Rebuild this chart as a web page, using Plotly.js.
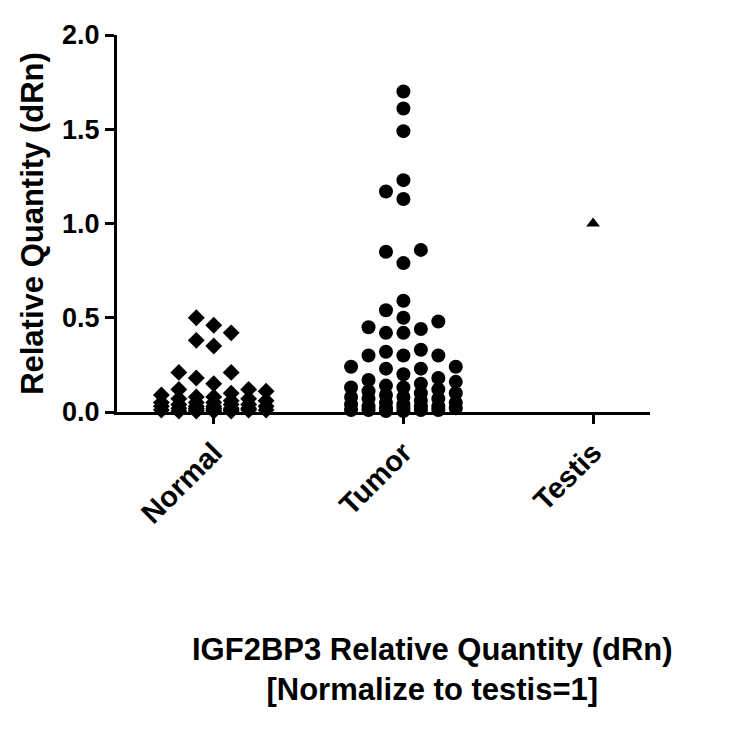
<!DOCTYPE html>
<html>
<head>
<meta charset="utf-8">
<script src="https://cdn.plot.ly/plotly-3.0.1.min.js"></script>
<style>html,body{margin:0;padding:0;background:#fff;}</style>
</head>
<body>
<div id="chart" style="width:731px;height:731px;"></div>
<script>
// ---- data ----
const categories = ["Normal", "Tumor", "Testis"];

const normalValues = [
  0.50, 0.46, 0.42, 0.38, 0.35, 0.21, 0.21, 0.18, 0.15,
  0.12, 0.12, 0.11, 0.10, 0.09, 0.08, 0.08, 0.07, 0.07, 0.06, 0.06,
  0.05, 0.05, 0.05, 0.04, 0.04, 0.04, 0.03, 0.03, 0.03, 0.03,
  0.02, 0.02, 0.02, 0.02, 0.02, 0.01, 0.01, 0.01, 0.01, 0.01, 0.01,
  0.005, 0.005, 0.005, 0.005
];

const tumorValues = [
  1.70, 1.61, 1.49, 1.23, 1.17, 1.13, 0.86, 0.85, 0.79,
  0.59, 0.54, 0.50, 0.48, 0.45, 0.44, 0.42, 0.42,
  0.33, 0.32, 0.30, 0.30, 0.30, 0.24, 0.24, 0.23, 0.23, 0.20,
  0.18, 0.17, 0.16, 0.15, 0.14, 0.13, 0.13, 0.12, 0.11, 0.10, 0.10,
  0.09, 0.08, 0.08, 0.07, 0.07, 0.06, 0.05, 0.05, 0.04, 0.04,
  0.03, 0.03, 0.03, 0.02, 0.02, 0.02, 0.01, 0.01, 0.01, 0.01, 0.005, 0.005
];

const testisValues = [1.0];

const yTickValues = [0, 0.5, 1.0, 1.5, 2.0];

const titleLines = ["IGF2BP3 Relative Quantity (dRn)", "[Normalize to testis=1]"];
const yTitle = "Relative Quantity (dRn)";

// ---- layout of the scatter-dot columns (Prism-like swarm) ----
const plotHeightPx = 377;
const yRange = [0, 2];
const pxPerY = plotHeightPx / (yRange[1] - yRange[0]);
const colStep = 0.092;
const slotOrder = [0, -1, 1, -2, 2, -3, 3];

function swarm(vals, catIndex, thrPx) {
  const sorted = vals.slice().sort((a, b) => a - b);
  const cols = {};
  slotOrder.forEach(o => cols[o] = []);
  const xs = [], ys = [];
  sorted.forEach(v => {
    let chosen = null, bestGap = -1, bestSlot = 0;
    for (const o of slotOrder) {
      let gap = Infinity;
      cols[o].forEach(u => { gap = Math.min(gap, Math.abs(v - u) * pxPerY); });
      if (gap >= thrPx) { chosen = o; break; }
      if (gap > bestGap + 0.5) { bestGap = gap; bestSlot = o; }
    }
    if (chosen === null) chosen = bestSlot;
    cols[chosen].push(v);
    xs.push(catIndex + chosen * colStep);
    ys.push(v);
  });
  return {x: xs, y: ys};
}

const sN = swarm(normalValues, 0, 15);
const sT = swarm(tumorValues, 1, 14);
const sX = swarm(testisValues, 2, 12);

const traces = [
  {type: "scatter", mode: "markers", x: sN.x, y: sN.y, name: categories[0],
   marker: {symbol: "diamond", size: 13, color: "#000"}, cliponaxis: false, hoverinfo: "y"},
  {type: "scatter", mode: "markers", x: sT.x, y: sT.y, name: categories[1],
   marker: {symbol: "circle", size: 14, color: "#000"}, cliponaxis: false, hoverinfo: "y"},
  {type: "scatter", mode: "markers", x: sX.x, y: sX.y, name: categories[2],
   marker: {symbol: "triangle-up", size: 12, color: "#000"}, cliponaxis: false, hoverinfo: "y"}
];

const fam = "Liberation Sans, Arial, sans-serif";

const layout = {
  width: 731, height: 731,
  margin: {l: 117, r: 81, t: 35, b: 319, pad: 0},
  paper_bgcolor: "#fff", plot_bgcolor: "#fff",
  showlegend: false,
  font: {family: fam, color: "#000"},
  xaxis: {
    range: [-0.51, 2.30],
    tickvals: [0, 1, 2], ticktext: categories,
    tickangle: -45,
    showline: true, linecolor: "#000", linewidth: 3,
    ticks: "outside", ticklen: 9, tickwidth: 3, tickcolor: "#000",
    tickfont: {family: fam, size: 29, color: "#000", weight: "bold"},
    showgrid: false, zeroline: false, fixedrange: true
  },
  yaxis: {
    range: yRange,
    tickvals: yTickValues, tickformat: ".1f",
    showline: true, linecolor: "#000", linewidth: 3,
    ticks: "outside", ticklen: 9, tickwidth: 3, tickcolor: "#000",
    tickfont: {family: fam, size: 27, color: "#000", weight: "bold"},
    showgrid: false, zeroline: false, fixedrange: true,
    title: {text: yTitle, font: {family: fam, size: 31, color: "#000", weight: "bold"}, standoff: 10}
  },
  annotations: [{
    text: titleLines.join("<br>"),
    xref: "paper", yref: "paper",
    x: 0.591, y: -0.684, xanchor: "center", yanchor: "middle",
    showarrow: false, align: "center",
    font: {family: fam, size: 31, color: "#000", weight: "bold"}
  }]
};

Plotly.newPlot("chart", traces, layout, {displayModeBar: false, staticPlot: true});
</script>
</body>
</html>
